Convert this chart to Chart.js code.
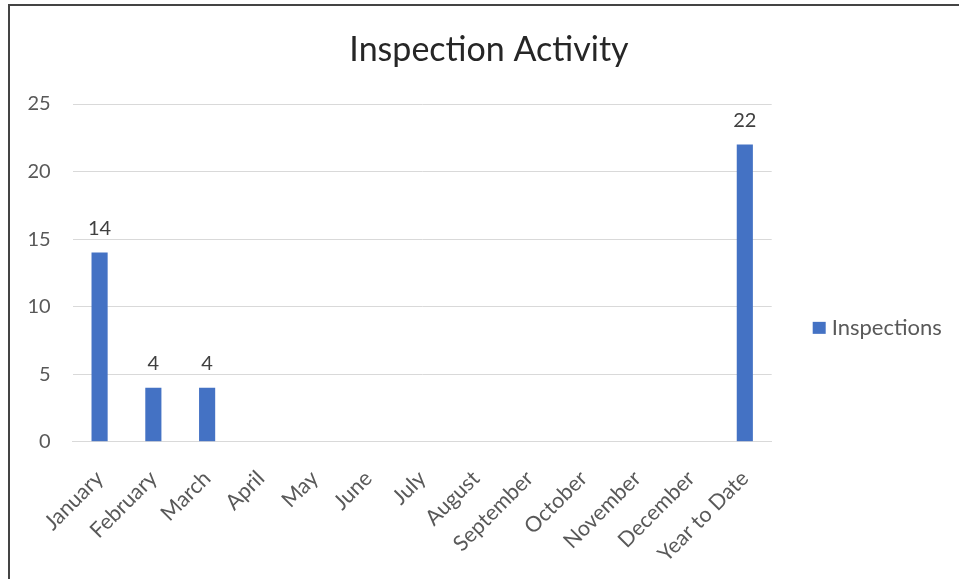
<!DOCTYPE html>
<html>
<head>
<meta charset="utf-8">
<script src="https://cdn.jsdelivr.net/npm/chart.js@4/dist/chart.umd.min.js"></script>
<style>
  html, body { margin: 0; padding: 0; background: #fff; overflow: hidden; width: 959px; height: 579px; }
  #frame { position: absolute; left: 8px; top: 4px; width: 1000px; height: 600px;
           border-left: 2px solid #444; border-top: 2px solid #444; box-sizing: border-box; }
  #wrap { position: absolute; left: 10px; top: 7px; width: 958px; height: 572px; }
</style>
</head>
<body>
<div id="frame"></div>
<div id="wrap"><canvas id="c" width="958" height="572"></canvas></div>
<script>
const categories = ["January","February","March","April","May","June","July","August","September","October","November","December","Year to Date"];
const inspections = [14, 4, 4, null, null, null, null, null, null, null, null, null, 22];
const seriesName = "Inspections";
const chartTitle = "Inspection Activity";
const yTicks = [0, 5, 10, 15, 20, 25];

const FONT = "Lato, 'Open Sans', sans-serif";
const BLUE = "#4472C4";

const dataLabels = {
  id: 'dataLabels',
  afterDatasetsDraw(chart) {
    const ctx = chart.ctx;
    ctx.save();
    ctx.font = "20px " + FONT;
    ctx.fillStyle = "#404040";
    ctx.textAlign = "center";
    ctx.textBaseline = "alphabetic";
    chart.data.datasets.forEach((ds, di) => {
      const meta = chart.getDatasetMeta(di);
      meta.data.forEach((el, i) => {
        const v = ds.data[i];
        if (v === null || v === undefined) return;
        ctx.fillText(String(v), el.x, el.y - 17.5);
      });
    });
    ctx.restore();
  }
};

// Centre the title over the whole chart (not only the area left of the legend)
const titleSpan = {
  id: 'titleSpan',
  afterLayout(chart) {
    if (chart.titleBlock) {
      chart.titleBlock.left = 0;
      chart.titleBlock.right = chart.width;
    }
  }
};

const sideLegend = {
  id: 'sideLegend',
  afterDraw(chart) {
    const ctx = chart.ctx;
    const ca = chart.chartArea;
    const ds = chart.data.datasets[0];
    const x = ca.right + 41;
    const yc = (ca.top + ca.bottom) / 2 + 55;
    ctx.save();
    ctx.fillStyle = ds.backgroundColor;
    ctx.fillRect(x, yc - 6, 13, 12);
    ctx.font = "22px " + FONT;
    ctx.fillStyle = "#595959";
    ctx.textAlign = "left";
    ctx.textBaseline = "middle";
    ctx.fillText(ds.label, x + 19, yc);
    ctx.restore();
  }
};

new Chart(document.getElementById('c'), {
  type: 'bar',
  data: {
    labels: categories,
    datasets: [{
      label: seriesName,
      data: inspections,
      backgroundColor: BLUE,
      borderWidth: 0,
      barPercentage: 0.6,
      categoryPercentage: 0.5
    }]
  },
  options: {
    responsive: false,
    animation: false,
    devicePixelRatio: 1,
    layout: { padding: { left: 0, right: 196.3, top: 0, bottom: 0 } },
    plugins: {
      legend: { display: false },
      tooltip: { enabled: false },
      title: {
        display: true,
        text: chartTitle,
        color: "#262626",
        font: { family: FONT, size: 34, weight: 'normal' },
        padding: { top: 22.6, bottom: 33.6 }
      }
    },
    scales: {
      x: {
        grid: { display: false },
        border: { display: true, color: "#d9d9d9", width: 1 },
        ticks: {
          color: "#595959",
          font: { family: FONT, size: 21.5 },
          minRotation: 45, maxRotation: 45,
          autoSkip: false,
          padding: 16
        },
        afterFit(scale) { scale.height = 137.3; }
      },
      y: {
        min: 0, max: 25,
        afterBuildTicks(scale) { scale.ticks = yTicks.map(v => ({ value: v })); },
        grid: { color: "#d9d9d9", lineWidth: 1, drawTicks: false },
        border: { display: false },
        ticks: {
          color: "#595959",
          font: { family: FONT, size: 20 },
          padding: 22
        },
        afterFit(scale) { scale.width = 62.7; }
      }
    }
  },
  plugins: [dataLabels, titleSpan, sideLegend]
});
</script>
</body>
</html>
